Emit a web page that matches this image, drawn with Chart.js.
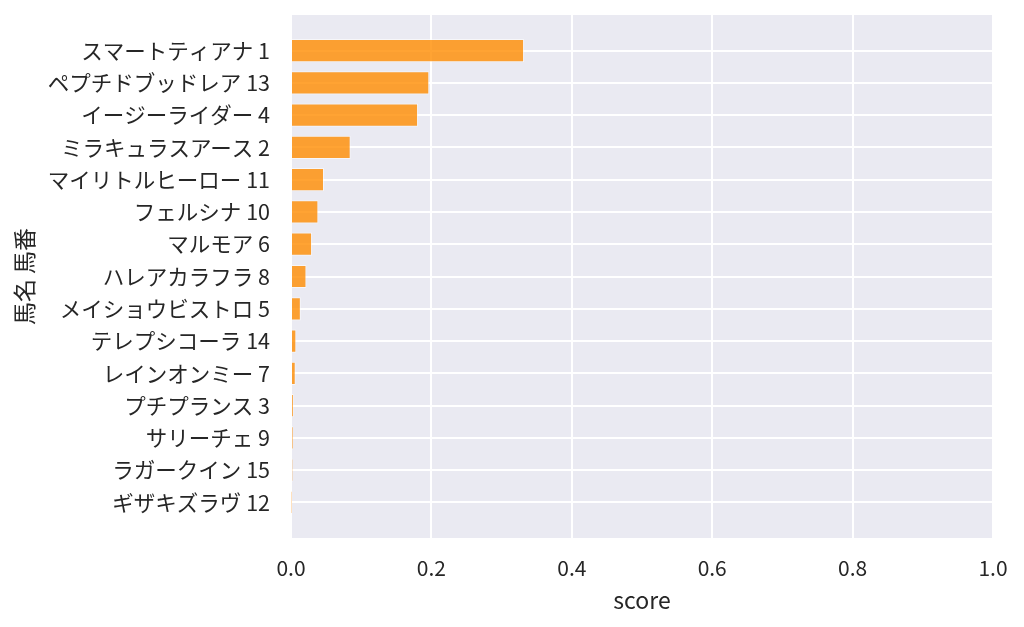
<!DOCTYPE html>
<html><head><meta charset="utf-8">
<script src="https://cdn.jsdelivr.net/npm/chart.js@4"></script>
<style>html,body{margin:0;padding:0;background:#fff}canvas{display:block}</style>
</head><body>
<canvas id="c" width="1024" height="627"></canvas>
<script>
const horseLabels = [
  'スマートティアナ 1','ペプチドブッドレア 13','イージーライダー 4','ミラキュラスアース 2',
  'マイリトルヒーロー 11','フェルシナ 10','マルモア 6','ハレアカラフラ 8',
  'メイショウビストロ 5','テレプシコーラ 14','レインオンミー 7','プチプランス 3',
  'サリーチェ 9','ラガークイン 15','ギザキズラヴ 12'
];
const scores = [0.332,0.197,0.181,0.085,0.047,0.039,0.030,0.022,0.014,0.0076,0.0067,0.0038,0.003,0.0024,0.0003];
const xTicks = [0,0.2,0.4,0.6,0.8,1.0];
const xTitle = 'score';
const yTitle = '馬名 馬番';

const FONT = "'Noto Sans CJK JP','Noto Sans',sans-serif";
const TXT = '#262626';

const bgPlugin = {id:'bg', beforeDraw(chart){
  const {ctx, chartArea:a} = chart;
  ctx.save(); ctx.fillStyle = '#EAEAF2';
  ctx.fillRect(a.left, a.top, a.right-a.left, a.bottom-a.top);
  ctx.restore();
}};

const zeroPad = s => { s.paddingTop = 0; s.paddingBottom = 0; s.paddingLeft = 0; s.paddingRight = 0; };

new Chart(document.getElementById('c'), {
  type: 'bar',
  data: { datasets: [{
    data: scores.map((v,i)=>({x:v, y:i})),
    backgroundColor: 'rgba(255,140,0,0.8)',
    borderColor: 'rgba(255,255,255,0.55)',
    borderWidth: 1,
    barPercentage: 0.72,
    categoryPercentage: 1
  }]},
  options: {
    indexAxis: 'y',
    responsive: false,
    animation: false,
    devicePixelRatio: 1,
    layout: { padding: { left: 0, right: 31, top: 15, bottom: 0 } },
    plugins: { legend: { display: false }, tooltip: { enabled: false } },
    scales: {
      x: {
        type: 'linear', position: 'bottom', min: 0, max: 1, offset: false,
        afterBuildTicks: s => { s.ticks = xTicks.map(v => ({value: v})); },
        afterFit: s => { s.height = 89; zeroPad(s); },
        ticks: { callback: v => Number(v).toFixed(1), padding: 17, color: TXT, font: { family: FONT, size: 21 }, maxRotation: 0 },
        grid: { color: '#ffffff', lineWidth: 2, drawTicks: false, offset: false },
        border: { display: false },
        title: { display: true, text: xTitle, color: TXT, font: { family: FONT, size: 23 }, padding: { top: 0, bottom: 13 } }
      },
      y: {
        type: 'linear', reverse: true, min: -1.1, max: 15.1, offset: false,
        afterBuildTicks: s => { s.ticks = horseLabels.map((_, i) => ({value: i})); },
        afterFit: s => { s.width = 291; zeroPad(s); },
        ticks: { callback: v => horseLabels[v], autoSkip: false, padding: 21, color: TXT, font: { family: FONT, size: 21.5 } },
        grid: { color: '#ffffff', lineWidth: 2, drawTicks: false, offset: false },
        border: { display: false },
        title: { display: true, text: yTitle, color: TXT, font: { family: FONT, size: 23 }, padding: { top: 10, bottom: 0 } }
      }
    }
  },
  plugins: [bgPlugin]
});
</script>
</body></html>
